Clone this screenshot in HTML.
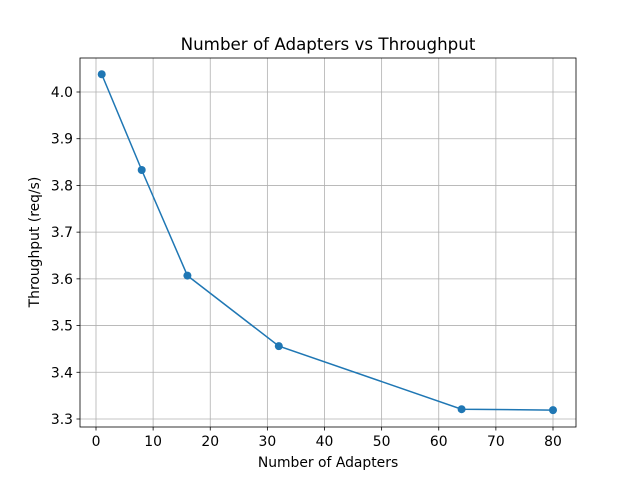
<!DOCTYPE html>
<html><head><meta charset="utf-8"><style>
body{margin:0;background:#fff;}
svg text{font-family:"DejaVu Sans","Liberation Sans",sans-serif;fill:#000;}
</style></head><body>
<svg id="chart" width="640" height="480">
<rect width="640" height="480" fill="#fff"/>
<g id="grid"></g>
<g id="ticks"></g>
<rect x="80" y="58" width="496" height="369" fill="none" stroke="#000" stroke-width="0.8"/>
<g id="series"></g>
<text x="328" y="50" font-size="16.7" text-anchor="middle">Number of Adapters vs Throughput</text>
<text x="328" y="467" font-size="13.9" text-anchor="middle">Number of Adapters</text>
<text x="0" y="0" font-size="13.9" text-anchor="middle" transform="translate(39,242) rotate(-90)">Throughput (req/s)</text>
</svg>
<script>
const adapters=[1,8,16,32,64,80];
const throughput=[4.038,3.833,3.607,3.456,3.321,3.319];
const xTicks=[0,10,20,30,40,50,60,70,80];
const yTicks=[3.3,3.4,3.5,3.6,3.7,3.8,3.9,4.0];
const ns="http://www.w3.org/2000/svg";
function X(v){return 96+v*(553-96)/80;}
function Y(v){return 92+(4.0-v)*(419-92)/0.7;}
function mk(t,a,p){const e=document.createElementNS(ns,t);for(const k in a)e.setAttribute(k,a[k]);p.appendChild(e);return e;}
const grid=document.getElementById('grid'),ticks=document.getElementById('ticks'),series=document.getElementById('series');
xTicks.forEach(v=>{const x=X(v);
 const g=mk('line',{x1:x,x2:x,y1:58,y2:427,stroke:'#b0b0b0','stroke-width':0.8},grid);
 
 
 mk('line',{x1:x,x2:x,y1:427,y2:430.5,stroke:'#000','stroke-width':0.8},ticks);
 const t=mk('text',{x:x,y:446,'font-size':13.9,'text-anchor':'middle'},ticks);t.textContent=v;
 
 
});
yTicks.forEach(v=>{const y=Y(v);
 const g=mk('line',{x1:80,x2:576,y1:y,y2:y,stroke:'#b0b0b0','stroke-width':0.8},grid);
 
 
 mk('line',{x1:76.5,x2:80,y1:y,y2:y,stroke:'#000','stroke-width':0.8},ticks);
 const t=mk('text',{x:73,y:y+5,'font-size':13.9,'text-anchor':'end'},ticks);t.textContent=v.toFixed(1);
 
 
});
const pts=adapters.map((a,i)=>X(a)+','+Y(throughput[i])).join(' ');
const line=mk('polyline',{points:pts,fill:'none',stroke:'#1f77b4','stroke-width':1.5},series);


adapters.forEach((a,i)=>{const c=mk('circle',{cx:X(a),cy:Y(throughput[i]),r:4,fill:'#1f77b4'},series);
 
 
});
</script>
</body></html>
